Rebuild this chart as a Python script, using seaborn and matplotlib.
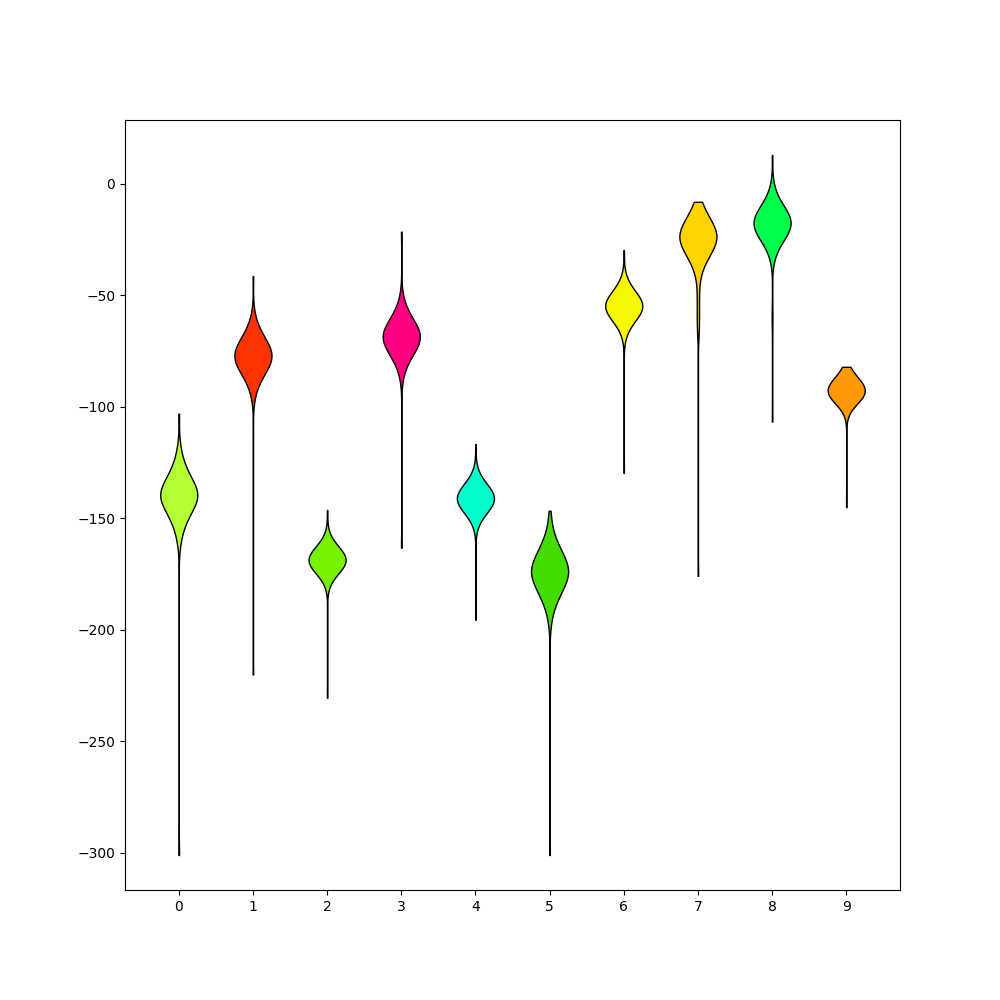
import numpy as np
import pandas as pd
import matplotlib
matplotlib.use("Agg")
import matplotlib.pyplot as plt
import seaborn as sns

# Category labels along the x axis
categories = ["0", "1", "2", "3", "4", "5", "6", "7", "8", "9"]

# Fill colour of each violin
colors = ["#b2ff33", "#ff3300", "#77f200", "#ff0080", "#00ffcc",
          "#44dd00", "#f7f700", "#ffd400", "#00ff4d", "#ff9908"]

# Bulk of each distribution (binned values)
core_0 = [-162.5, -157, -151, -145, -139.5, -134, -128, -122, -116.5]
core_1 = [-97, -92, -87, -82, -77, -72, -67, -62, -57]
core_2 = [-179.5, -176.8, -174, -171.3, -168.6, -165.9, -163.1, -160.4, -157.6]
core_3 = [-87.9, -83, -78.2, -73.4, -68.5, -63.7, -58.8, -54, -49.1]
core_4 = [-153.7, -150.5, -147.4, -144.2, -141, -137.8, -134.6, -131.5, -128.3]
core_5 = [-198.1, -192, -186, -179.9, -173.8, -167.7, -161.6, -155.6, -149.5]
core_6 = [-68.5, -65, -61.6, -58.1, -54.7, -51.3, -47.8, -44.4, -40.9]
core_7 = [-44.4, -39.2, -34, -28.8, -23.6, -18.4, -13.2, -8]
core_8 = [-35.4, -30.9, -26.4, -22, -17.5, -13, -8.6, -4.1, 0.4]
core_9 = [-100, -97, -94, -91, -88, -85, -82]

# How many observations sit at each binned value
counts_sym = [2, 6, 16, 30, 40, 30, 16, 6, 2]
counts_7 = [2, 6, 16, 30, 40, 30, 16, 6]
counts_9 = [4, 22, 40, 34, 20, 8, 2]

# Single observations away from the bulk (extremes and sparse tails)
tail_0 = [-301, -103]
tail_1 = [-220, -41.3]
tail_2 = [-230.5, -146.2]
tail_3 = [-163.2, -21.4]
tail_4 = [-195.5, -116.6]
tail_5 = [-301, -146.6]
tail_6 = [-129.6, -29.6]
tail_7 = [-175.8, -68, -65.5, -63, -60.5, -58, -55.5, -53, -50.5, -48]
tail_8 = [-106.6, -62, -57, 13]
tail_9 = [-145]

cores = [core_0, core_1, core_2, core_3, core_4, core_5, core_6, core_7, core_8, core_9]
counts = [counts_sym] * 7 + [counts_7, counts_sym, counts_9]
tails = [tail_0, tail_1, tail_2, tail_3, tail_4, tail_5, tail_6, tail_7, tail_8, tail_9]

frames = []
for cat, core, cnt, tail in zip(categories, cores, counts, tails):
    vals = np.concatenate([np.repeat(core, cnt), tail])
    frames.append(pd.DataFrame({"group": cat, "value": vals}))
df = pd.concat(frames, ignore_index=True)

# fixed kernel width in data units, same for every violin
BANDWIDTH = 4.5


def fixed_bw(kde):
    return BANDWIDTH / np.std(kde.dataset, ddof=1)


fig, ax = plt.subplots(figsize=(10, 10), dpi=100)
sns.violinplot(
    data=df, x="group", y="value", hue="group",
    order=categories, hue_order=categories, palette=colors,
    saturation=1, legend=False, inner=None, cut=0,
    bw_method=fixed_bw, density_norm="width", width=0.5,
    gridsize=400, linewidth=1, linecolor="black", ax=ax,
)
ax.set_xlim(-0.725, 9.725)
ax.set_xlabel("")
ax.set_ylabel("")

fig.savefig("out.png", dpi=100)
